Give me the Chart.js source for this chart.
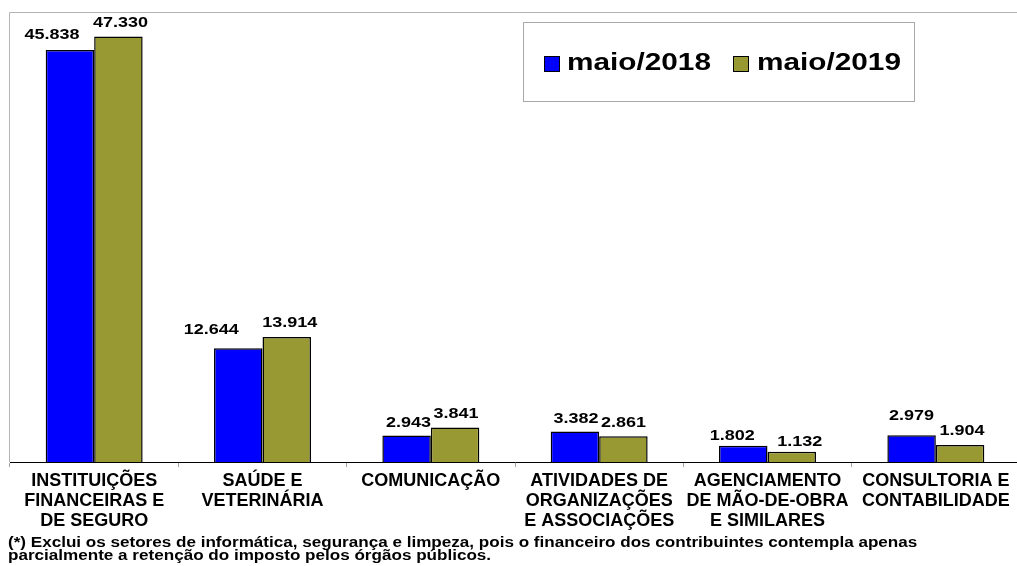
<!DOCTYPE html>
<html>
<head>
<meta charset="utf-8">
<script src="https://cdn.jsdelivr.net/npm/chart.js@4.4.1/dist/chart.umd.min.js"></script>
<style>
  html, body { margin:0; padding:0; background:#fff; overflow:hidden; }
  #wrap { position:relative; width:1021px; height:566px; }
  #note {
    position:absolute; left:8px; top:536px; white-space:nowrap;
    font:bold 14px "Liberation Sans", Arial, sans-serif; line-height:12.5px; color:#000;
    transform:scaleX(1.22); transform-origin:0 0;
  }
</style>
</head>
<body>
<div id="wrap">
  <canvas id="chart" width="1021" height="566" style="width:1021px;height:566px"></canvas>
  <div id="note">(*) Exclui os setores de informática, segurança e limpeza, pois o financeiro dos contribuintes contempla apenas<br>parcialmente a retenção do imposto pelos órgãos públicos.</div>
</div>
<script>
// categories (multi-line as drawn) and values, in thousands
const categories = [
  ['INSTITUIÇÕES', 'FINANCEIRAS E', 'DE SEGURO'],
  ['SAÚDE E', 'VETERINÁRIA'],
  ['COMUNICAÇÃO'],
  ['ATIVIDADES DE', 'ORGANIZAÇÕES', 'E ASSOCIAÇÕES'],
  ['AGENCIAMENTO', 'DE MÃO-DE-OBRA', 'E SIMILARES'],
  ['CONSULTORIA E', 'CONTABILIDADE']
];
const seriesNames = ['maio/2018', 'maio/2019'];
const values2018 = [45.838, 12.644, 2.943, 3.382, 1.802, 2.979];
const values2019 = [47.330, 13.914, 3.841, 2.861, 1.132, 1.904];

// label nudges as placed in the original (px)
const labelDx = [[-18, -27, 2, 1, -11, 0], [2, 3, 1, 0, 8, 2]];
const labelLift = [[11, 14, 9, 9, 6, 15], [10, 10, 9, 9, 6, 10]];

const BLUE = '#0000ff', OLIVE = '#999933';

const frame = {
  id: 'frame',
  beforeDatasetsDraw(chart){
    const {ctx, chartArea:a} = chart;
    ctx.save();
    ctx.strokeStyle = '#b4b4b4';
    ctx.lineWidth = 1;
    ctx.beginPath();
    ctx.moveTo(a.left - 0.5, a.bottom);
    ctx.lineTo(a.left - 0.5, a.top);
    ctx.lineTo(a.right, a.top);
    ctx.stroke();
    ctx.restore();
  }
};

const valueLabels = {
  id: 'valueLabels',
  afterDatasetsDraw(chart){
    const ctx = chart.ctx;
    ctx.save();
    ctx.font = 'bold 15px "Liberation Sans", Arial, sans-serif';
    ctx.fillStyle = '#000';
    ctx.textAlign = 'center';
    ctx.textBaseline = 'alphabetic';
    chart.data.datasets.forEach((ds, di) => {
      chart.getDatasetMeta(di).data.forEach((bar, i) => {
        ctx.save();
        ctx.translate(bar.x + labelDx[di][i], bar.y - labelLift[di][i]);
        ctx.scale(1.2, 1);
        ctx.fillText(ds.data[i].toFixed(3), 0, 0);
        ctx.restore();
      });
    });
    ctx.restore();
  }
};

const boxLegend = {
  id: 'boxLegend',
  afterDraw(chart){
    const ctx = chart.ctx;
    ctx.save();
    ctx.strokeStyle = '#a8a8a8';
    ctx.lineWidth = 1;
    ctx.strokeRect(523.5, 22.5, 391, 79);
    const sq = [544, 733], tx = [567, 757];
    ctx.font = 'bold 24px "Liberation Sans", Arial, sans-serif';
    ctx.textBaseline = 'alphabetic';
    chart.data.datasets.forEach((ds, i) => {
      ctx.fillStyle = ds.backgroundColor;
      ctx.fillRect(sq[i], 56, 16, 16);
      ctx.strokeStyle = '#000';
      ctx.strokeRect(sq[i] + 0.5, 56.5, 15, 15);
      ctx.fillStyle = '#000';
      ctx.save();
      ctx.translate(tx[i], 70);
      ctx.scale(1.24, 1);
      ctx.fillText(ds.label, 0, 0);
      ctx.restore();
    });
    ctx.restore();
  }
};

new Chart(document.getElementById('chart'), {
  type: 'bar',
  data: {
    labels: categories,
    datasets: [
      { label: seriesNames[0], data: values2018, backgroundColor: BLUE, borderColor: '#000', borderWidth: 1.5 },
      { label: seriesNames[1], data: values2019, backgroundColor: OLIVE, borderColor: '#000', borderWidth: 1.5 }
    ]
  },
  options: {
    responsive: false,
    animation: false,
    layout: { padding: { left: 10, top: 12.5, right: 1, bottom: 0 } },
    categoryPercentage: 0.576,
    barPercentage: 1,
    plugins: { legend: { display: false }, tooltip: { enabled: false } },
    scales: {
      x: {
        afterFit: s => { s.height = 104; },
        border: { display: true, color: '#000', width: 1 },
        grid: { drawOnChartArea: false, drawTicks: true, tickLength: 5, color: '#a0a0a0', offset: true },
        ticks: {
          autoSkip: false, maxRotation: 0, padding: 4, color: '#000',
          font: { family: '"Liberation Sans", Arial, sans-serif', size: 18, weight: 'bold', lineHeight: 1.111 }
        }
      },
      y: { display: false, min: 0, max: 50 }
    }
  },
  plugins: [frame, valueLabels, boxLegend]
});
</script>
</body>
</html>
